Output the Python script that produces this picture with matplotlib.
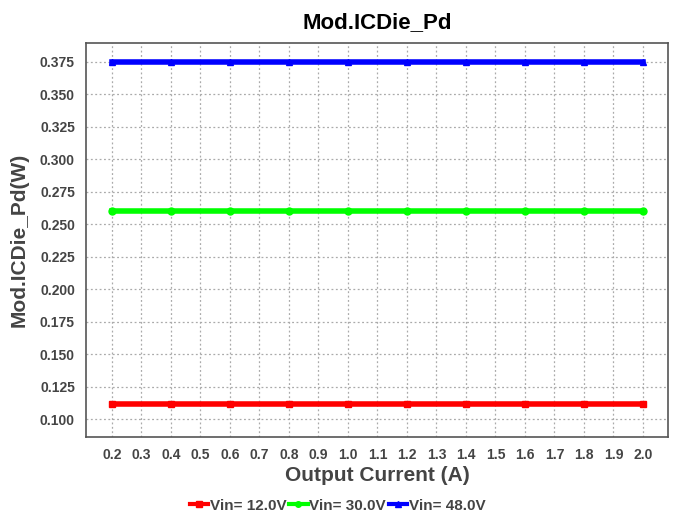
import numpy as np
import matplotlib.pyplot as plt

plt.rcParams['font.family'] = ['Liberation Sans', 'DejaVu Sans']
plt.rcParams['font.weight'] = 'bold'

current = [0.2, 0.4, 0.6, 0.8, 1.0, 1.2, 1.4, 1.6, 1.8, 2.0]
pd_12v = [0.1117] * 10
pd_30v = [0.2600] * 10
pd_48v = [0.3745] * 10

series = [
    ("Vin= 12.0V", pd_12v, "#ff0000", "s"),
    ("Vin= 30.0V", pd_30v, "#00ff00", "o"),
    ("Vin= 48.0V", pd_48v, "#0000ff", "^"),
]

fig = plt.figure(figsize=(6.75, 5.15), dpi=100)
ax = fig.add_axes([86 / 675, 78 / 515, 582 / 675, 394 / 515])

for label, vals, color, marker in series:
    ax.plot(current, vals, color=color, linewidth=4, marker=marker,
            markersize=5, label=label)

ax.set_xlim(0.112, 2.085)
ax.set_ylim(0.0862, 0.3893)
ax.set_xticks(np.round(np.arange(0.2, 2.01, 0.1), 1))
ax.set_xticklabels([f"{v:.1f}" for v in np.arange(0.2, 2.01, 0.1)])
ax.set_yticks(np.round(np.arange(0.1, 0.376, 0.025), 3))
ax.set_yticklabels([f"{v:.3f}" for v in np.arange(0.1, 0.376, 0.025)])

ax.grid(True, color="#aaaaaa", linestyle=(0, (1.5, 2)), linewidth=0.9)
ax.tick_params(axis="both", length=0, labelsize=10, colors="#444444", pad=8)
for sp in ax.spines.values():
    sp.set_color("#555555")
    sp.set_linewidth(1.2)

ax.set_title("Mod.ICDie_Pd", fontsize=16, fontweight="bold", color="black", pad=11)
ax.set_xlabel("Output Current (A)", fontsize=15, fontweight="bold",
              color="#444444", labelpad=3)
ax.set_ylabel("Mod.ICDie_Pd(W)", fontsize=15, fontweight="bold",
              color="#444444", labelpad=8)

leg = fig.legend(loc="lower center", bbox_to_anchor=(0.5, -0.022), ncol=3,
                 frameon=False, fontsize=11, handlelength=1.2, handletextpad=0.1,
                 columnspacing=0.2, markerscale=0.8)
for t in leg.get_texts():
    t.set_color("#444444")
for h in leg.legend_handles:
    h.set_linewidth(3)

fig.savefig("out.png", dpi=100)
